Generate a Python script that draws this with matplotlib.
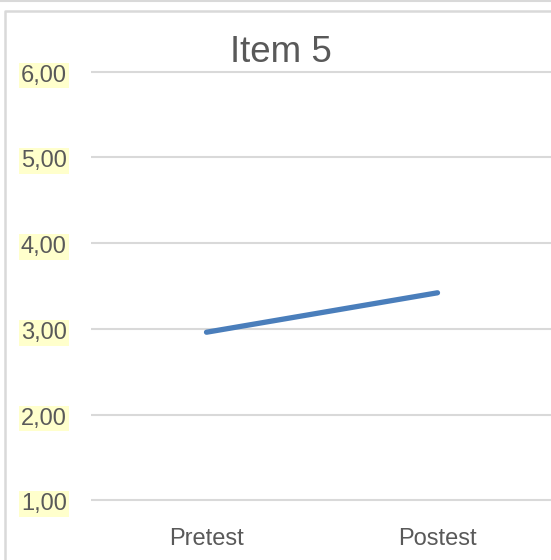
import matplotlib.pyplot as plt
from matplotlib.lines import Line2D
from matplotlib.transforms import ScaledTranslation

plt.rcParams['font.family'] = ['Liberation Sans', 'DejaVu Sans']

categories = ['Pretest', 'Postest']
values = [2.96, 3.42]
y_ticks = [1, 2, 3, 4, 5, 6]
y_tick_labels = ['1,00', '2,00', '3,00', '4,00', '5,00', '6,00']

W, H = 551, 560
fig = plt.figure(figsize=(W / 100, H / 100), dpi=100)


def fx(px):
    return px / W


def fy(py):
    return 1 - py / H


# plot area: x from 91 to 553 px, y from 63 to 526 px
ax = fig.add_axes([fx(91), fy(526), fx(553) - fx(91), fy(63) - fy(526)])
ax.set_xlim(-0.5, 1.5)
ax.set_ylim(0.7, 6.1)

ax.plot(range(len(categories)), values, color='#4a7ebb', linewidth=3.8,
        solid_capstyle='round')

ax.set_yticks(y_ticks)
ax.set_yticklabels(y_tick_labels)
ax.set_xticks(range(len(categories)))
ax.set_xticklabels(categories)
ax.grid(axis='y', color='#d9d9d9', linewidth=1.5)
ax.set_axisbelow(True)
for s in ax.spines.values():
    s.set_visible(False)
ax.tick_params(axis='y', length=0, pad=17.5, labelsize=17, labelcolor='#595959')
ax.tick_params(axis='x', length=0, pad=1.5, labelsize=17, labelcolor='#595959')

# highlighted value labels, nudged down slightly
nudge = ScaledTranslation(0, -0.015, fig.dpi_scale_trans)
for lbl in ax.get_yticklabels():
    lbl.set_bbox(dict(boxstyle='square,pad=0.08', facecolor='#ffffcc', edgecolor='none'))
    lbl.set_transform(lbl.get_transform() + nudge)

fig.text(fx(281), fy(53), 'Item 5', ha='center', va='center', fontsize=26.5,
         color='#595959')

# outer frame lines
fig.add_artist(Line2D([0, 1], [fy(0.5), fy(0.5)], transform=fig.transFigure,
                      color='#d9d9d9', linewidth=1.5))
fig.add_artist(Line2D([fx(4.5), fx(4.5), 1], [0, fy(11), fy(11)],
                      transform=fig.transFigure, color='#d9d9d9', linewidth=1.8))

fig.savefig('out.png', dpi=100, facecolor='white')
